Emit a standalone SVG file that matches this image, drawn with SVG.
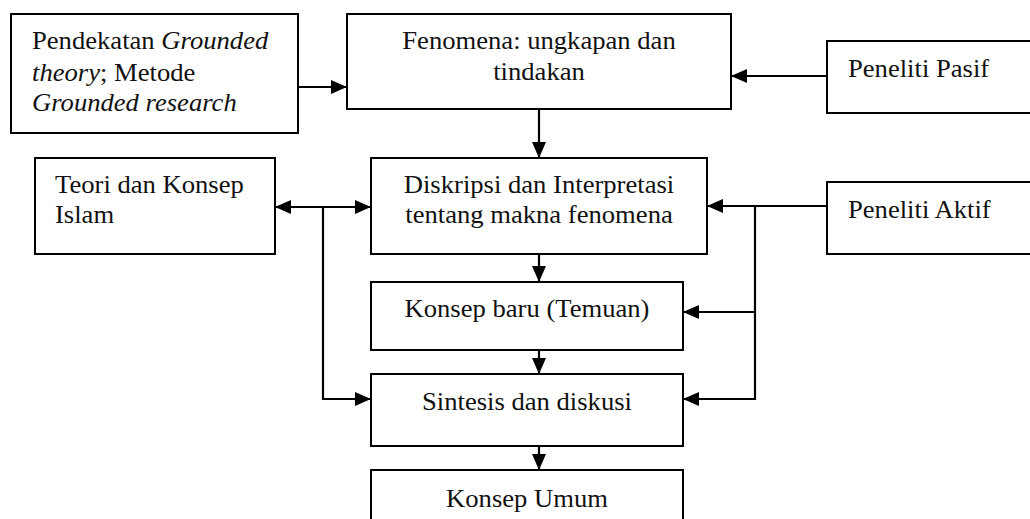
<svg xmlns="http://www.w3.org/2000/svg" width="1030" height="519" viewBox="0 0 1030 519">
  <style>
    .box { fill: #fff; stroke: #000; stroke-width: 2; }
    .lbl { font-family: "Liberation Serif", "Times New Roman", serif; font-size: 25px; fill: #111; }
    .mid { text-anchor: middle; }
    .it { font-style: italic; }
    .wire { fill: none; stroke: #000; stroke-width: 2.2; }
  </style>
  <defs>
    <marker id="head" viewBox="0 0 16 14" refX="16" refY="7" markerWidth="16" markerHeight="14" markerUnits="userSpaceOnUse" orient="auto-start-reverse">
      <path d="M0,0 L16,7 L0,14 Z" fill="#000"/>
    </marker>
  </defs>

  <rect width="1030" height="519" fill="#fff"/>

  <!-- connectors -->
  <g id="connectors">
    <line class="wire" x1="298" y1="87" x2="347" y2="87" marker-end="url(#head)"/>
    <line class="wire" x1="827" y1="76" x2="731" y2="76" marker-end="url(#head)"/>
    <line class="wire" x1="539" y1="109" x2="539" y2="158" marker-end="url(#head)"/>
    <line class="wire" x1="275" y1="207" x2="371" y2="207" marker-start="url(#head)" marker-end="url(#head)"/>
    <polyline class="wire" points="323,207 323,399 371,399" marker-end="url(#head)"/>
    <line class="wire" x1="827" y1="206" x2="707" y2="206" marker-end="url(#head)"/>
    <polyline class="wire" points="755,206 755,399 683,399" marker-end="url(#head)"/>
    <line class="wire" x1="755" y1="312" x2="683" y2="312" marker-end="url(#head)"/>
    <line class="wire" x1="539" y1="254" x2="539" y2="282" marker-end="url(#head)"/>
    <line class="wire" x1="539" y1="350" x2="539" y2="374" marker-end="url(#head)"/>
    <line class="wire" x1="539" y1="446" x2="539" y2="470" marker-end="url(#head)"/>
  </g>

  <!-- labels use a slightly widened serif face -->
  <g id="pendekatan">
    <rect class="box" x="11" y="14" width="287" height="119"/>
    <text class="lbl" transform="translate(32,49) scale(1.065,1)">Pendekatan <tspan class="it">Grounded</tspan></text>
    <text class="lbl" transform="translate(32,81) scale(1.065,1)"><tspan class="it">theory</tspan>; Metode</text>
    <text class="lbl it" transform="translate(32,111) scale(1.065,1)">Grounded research</text>
  </g>

  <g id="fenomena">
    <rect class="box" x="347" y="14" width="384" height="95"/>
    <text class="lbl mid" transform="translate(539,49) scale(1.065,1)">Fenomena: ungkapan dan</text>
    <text class="lbl mid" transform="translate(539,80) scale(1.065,1)">tindakan</text>
  </g>

  <g id="peneliti-pasif">
    <rect class="box" x="827" y="41" width="220" height="72"/>
    <text class="lbl" transform="translate(848,77) scale(1.065,1)">Peneliti Pasif</text>
  </g>

  <g id="teori">
    <rect class="box" x="35" y="158" width="240" height="96"/>
    <text class="lbl" transform="translate(55,193) scale(1.065,1)">Teori dan Konsep</text>
    <text class="lbl" transform="translate(55,223) scale(1.065,1)">Islam</text>
  </g>

  <g id="diskripsi">
    <rect class="box" x="371" y="158" width="336" height="96"/>
    <text class="lbl mid" transform="translate(539,193) scale(1.065,1)">Diskripsi dan Interpretasi</text>
    <text class="lbl mid" transform="translate(539,223) scale(1.065,1)">tentang makna fenomena</text>
  </g>

  <g id="peneliti-aktif">
    <rect class="box" x="827" y="182" width="220" height="72"/>
    <text class="lbl" transform="translate(848,218) scale(1.065,1)">Peneliti Aktif</text>
  </g>

  <g id="konsep-baru">
    <rect class="box" x="371" y="282" width="312" height="68"/>
    <text class="lbl mid" transform="translate(527,317) scale(1.065,1)">Konsep baru (Temuan)</text>
  </g>

  <g id="sintesis">
    <rect class="box" x="371" y="374" width="312" height="72"/>
    <text class="lbl mid" transform="translate(527,410) scale(1.065,1)">Sintesis dan diskusi</text>
  </g>

  <g id="konsep-umum">
    <rect class="box" x="371" y="470" width="312" height="60"/>
    <text class="lbl mid" transform="translate(527,507) scale(1.065,1)">Konsep Umum</text>
  </g>
</svg>
